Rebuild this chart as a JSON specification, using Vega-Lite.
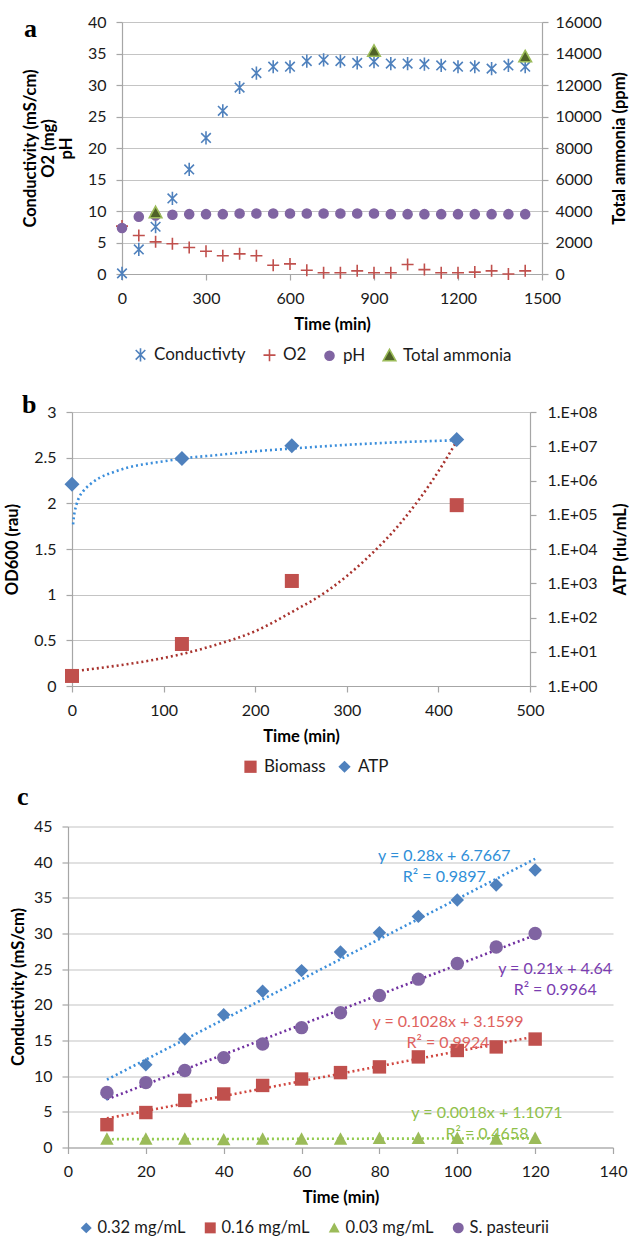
{
  "$schema": "https://vega.github.io/schema/vega-lite/v6.json",
  "background": "white",
  "padding": {"left": 0, "top": 14, "right": 0, "bottom": 0},
  "config": {
    "font": "Lato",
    "view": {"stroke": null},
    "axis": {
      "labelFont": "Lato", "labelFontSize": 16, "labelColor": "#1a1a1a",
      "titleFont": "Lato", "titleFontSize": 16.5, "titleFontWeight": "bold", "titleColor": "#000000",
      "domainColor": "#A6A6A6", "tickColor": "#A6A6A6", "gridColor": "#C4C4C4",
      "domainWidth": 1.2, "tickWidth": 1.2, "gridWidth": 1.2, "tickSize": 6,
      "labelPadding": 9, "titlePadding": 10, "labelFlush": false, "labelOverlap": false, "labelBound": false
    },
    "axisX": {"grid": false, "labelPadding": 10, "titlePadding": 10},
    "legend": {"labelFont": "Lato", "labelFontSize": 17, "labelColor": "#1a1a1a", "padding": 0, "labelOffset": 5, "symbolStrokeWidth": 1.6},
    "title": {"font": "Liberation Serif", "fontSize": 26, "fontWeight": "bold", "color": "#000000", "anchor": "start", "frame": "group", "offset": 0, "baseline": "alphabetic"}
  },
  "datasets": {
    "a_left": [
      {"series": "Conductivty", "t": 0, "v": 0.1}, {"series": "Conductivty", "t": 60, "v": 3.9}, {"series": "Conductivty", "t": 120, "v": 7.5}, {"series": "Conductivty", "t": 180, "v": 12.0}, {"series": "Conductivty", "t": 240, "v": 16.6}, {"series": "Conductivty", "t": 300, "v": 21.6}, {"series": "Conductivty", "t": 360, "v": 25.9}, {"series": "Conductivty", "t": 420, "v": 29.6}, {"series": "Conductivty", "t": 480, "v": 31.9}, {"series": "Conductivty", "t": 540, "v": 32.9}, {"series": "Conductivty", "t": 600, "v": 32.9}, {"series": "Conductivty", "t": 660, "v": 33.8}, {"series": "Conductivty", "t": 720, "v": 34.0}, {"series": "Conductivty", "t": 780, "v": 33.8}, {"series": "Conductivty", "t": 840, "v": 33.5}, {"series": "Conductivty", "t": 900, "v": 33.7}, {"series": "Conductivty", "t": 960, "v": 33.4}, {"series": "Conductivty", "t": 1020, "v": 33.4}, {"series": "Conductivty", "t": 1080, "v": 33.3}, {"series": "Conductivty", "t": 1140, "v": 33.1}, {"series": "Conductivty", "t": 1200, "v": 32.9}, {"series": "Conductivty", "t": 1260, "v": 32.9}, {"series": "Conductivty", "t": 1320, "v": 32.6}, {"series": "Conductivty", "t": 1380, "v": 33.1}, {"series": "Conductivty", "t": 1440, "v": 32.9},
      {"series": "O2", "t": 0, "v": 7.6}, {"series": "O2", "t": 60, "v": 6.1}, {"series": "O2", "t": 120, "v": 5.1}, {"series": "O2", "t": 180, "v": 4.8}, {"series": "O2", "t": 240, "v": 4.2}, {"series": "O2", "t": 300, "v": 3.6}, {"series": "O2", "t": 360, "v": 2.9}, {"series": "O2", "t": 420, "v": 3.2}, {"series": "O2", "t": 480, "v": 2.9}, {"series": "O2", "t": 540, "v": 1.4}, {"series": "O2", "t": 600, "v": 1.6}, {"series": "O2", "t": 660, "v": 0.6}, {"series": "O2", "t": 720, "v": 0.2}, {"series": "O2", "t": 780, "v": 0.2}, {"series": "O2", "t": 840, "v": 0.5}, {"series": "O2", "t": 900, "v": 0.2}, {"series": "O2", "t": 960, "v": 0.2}, {"series": "O2", "t": 1020, "v": 1.5}, {"series": "O2", "t": 1080, "v": 0.7}, {"series": "O2", "t": 1140, "v": 0.2}, {"series": "O2", "t": 1200, "v": 0.2}, {"series": "O2", "t": 1260, "v": 0.3}, {"series": "O2", "t": 1320, "v": 0.5}, {"series": "O2", "t": 1380, "v": 0.0}, {"series": "O2", "t": 1440, "v": 0.5},
      {"series": "pH", "t": 0, "v": 7.3}, {"series": "pH", "t": 60, "v": 9.1}, {"series": "pH", "t": 120, "v": 9.3}, {"series": "pH", "t": 180, "v": 9.4}, {"series": "pH", "t": 240, "v": 9.5}, {"series": "pH", "t": 300, "v": 9.5}, {"series": "pH", "t": 360, "v": 9.5}, {"series": "pH", "t": 420, "v": 9.6}, {"series": "pH", "t": 480, "v": 9.6}, {"series": "pH", "t": 540, "v": 9.6}, {"series": "pH", "t": 600, "v": 9.6}, {"series": "pH", "t": 660, "v": 9.6}, {"series": "pH", "t": 720, "v": 9.6}, {"series": "pH", "t": 780, "v": 9.6}, {"series": "pH", "t": 840, "v": 9.6}, {"series": "pH", "t": 900, "v": 9.6}, {"series": "pH", "t": 960, "v": 9.5}, {"series": "pH", "t": 1020, "v": 9.5}, {"series": "pH", "t": 1080, "v": 9.5}, {"series": "pH", "t": 1140, "v": 9.5}, {"series": "pH", "t": 1200, "v": 9.5}, {"series": "pH", "t": 1260, "v": 9.5}, {"series": "pH", "t": 1320, "v": 9.5}, {"series": "pH", "t": 1380, "v": 9.5}, {"series": "pH", "t": 1440, "v": 9.5}
    ],
    "a_nh3": [
      {"series": "Total ammonia", "t": 120, "v": 3900},
      {"series": "Total ammonia", "t": 900, "v": 14150},
      {"series": "Total ammonia", "t": 1440, "v": 13800}
    ],
    "b_bio": [
      {"series": "Biomass", "t": 0, "v": 0.11}, {"series": "Biomass", "t": 120, "v": 0.46}, {"series": "Biomass", "t": 240, "v": 1.15}, {"series": "Biomass", "t": 420, "v": 1.98}
    ],
    "b_atp": [
      {"series": "ATP", "t": 0, "v": 780000}, {"series": "ATP", "t": 120, "v": 4400000}, {"series": "ATP", "t": 240, "v": 10300000}, {"series": "ATP", "t": 420, "v": 15800000}
    ],
    "b_bio_trend": [
      {"t": 0, "v": 0.16}, {"t": 40, "v": 0.21}, {"t": 80, "v": 0.27}, {"t": 120, "v": 0.35}, {"t": 160, "v": 0.46}, {"t": 200, "v": 0.6}, {"t": 240, "v": 0.81}, {"t": 280, "v": 1.05}, {"t": 320, "v": 1.38}, {"t": 360, "v": 1.8}, {"t": 400, "v": 2.35}, {"t": 420, "v": 2.68}
    ],
    "b_atp_trend": [
      {"t": 1.2, "v": 52000}, {"t": 2, "v": 86000}, {"t": 3, "v": 124000}, {"t": 5, "v": 203000}, {"t": 8, "v": 331000}, {"t": 12, "v": 479000}, {"t": 20, "v": 780000}, {"t": 30, "v": 1200000}, {"t": 45, "v": 1740000}, {"t": 60, "v": 2360000}, {"t": 80, "v": 3020000}, {"t": 100, "v": 3630000}, {"t": 120, "v": 4370000}, {"t": 160, "v": 5580000}, {"t": 200, "v": 7130000}, {"t": 240, "v": 8580000}, {"t": 300, "v": 11000000}, {"t": 360, "v": 13200000}, {"t": 420, "v": 14900000}
    ],
    "c_pts": [
      {"series": "0.32 mg/mL", "t": 10, "v": 7.5}, {"series": "0.32 mg/mL", "t": 20, "v": 11.6}, {"series": "0.32 mg/mL", "t": 30, "v": 15.2}, {"series": "0.32 mg/mL", "t": 40, "v": 18.6}, {"series": "0.32 mg/mL", "t": 50, "v": 21.9}, {"series": "0.32 mg/mL", "t": 60, "v": 24.8}, {"series": "0.32 mg/mL", "t": 70, "v": 27.4}, {"series": "0.32 mg/mL", "t": 80, "v": 30.1}, {"series": "0.32 mg/mL", "t": 90, "v": 32.4}, {"series": "0.32 mg/mL", "t": 100, "v": 34.7}, {"series": "0.32 mg/mL", "t": 110, "v": 36.8}, {"series": "0.32 mg/mL", "t": 120, "v": 38.9},
      {"series": "0.16 mg/mL", "t": 10, "v": 3.2}, {"series": "0.16 mg/mL", "t": 20, "v": 4.9}, {"series": "0.16 mg/mL", "t": 30, "v": 6.6}, {"series": "0.16 mg/mL", "t": 40, "v": 7.5}, {"series": "0.16 mg/mL", "t": 50, "v": 8.7}, {"series": "0.16 mg/mL", "t": 60, "v": 9.6}, {"series": "0.16 mg/mL", "t": 70, "v": 10.5}, {"series": "0.16 mg/mL", "t": 80, "v": 11.3}, {"series": "0.16 mg/mL", "t": 90, "v": 12.7}, {"series": "0.16 mg/mL", "t": 100, "v": 13.6}, {"series": "0.16 mg/mL", "t": 110, "v": 14.1}, {"series": "0.16 mg/mL", "t": 120, "v": 15.2},
      {"series": "0.03 mg/mL", "t": 10, "v": 1.2}, {"series": "0.03 mg/mL", "t": 20, "v": 1.2}, {"series": "0.03 mg/mL", "t": 30, "v": 1.2}, {"series": "0.03 mg/mL", "t": 40, "v": 1.1}, {"series": "0.03 mg/mL", "t": 50, "v": 1.2}, {"series": "0.03 mg/mL", "t": 60, "v": 1.2}, {"series": "0.03 mg/mL", "t": 70, "v": 1.2}, {"series": "0.03 mg/mL", "t": 80, "v": 1.3}, {"series": "0.03 mg/mL", "t": 90, "v": 1.3}, {"series": "0.03 mg/mL", "t": 100, "v": 1.3}, {"series": "0.03 mg/mL", "t": 110, "v": 1.2}, {"series": "0.03 mg/mL", "t": 120, "v": 1.3},
      {"series": "S. pasteurii", "t": 10, "v": 7.7}, {"series": "S. pasteurii", "t": 20, "v": 9.1}, {"series": "S. pasteurii", "t": 30, "v": 10.8}, {"series": "S. pasteurii", "t": 40, "v": 12.6}, {"series": "S. pasteurii", "t": 50, "v": 14.5}, {"series": "S. pasteurii", "t": 60, "v": 16.8}, {"series": "S. pasteurii", "t": 70, "v": 18.9}, {"series": "S. pasteurii", "t": 80, "v": 21.3}, {"series": "S. pasteurii", "t": 90, "v": 23.6}, {"series": "S. pasteurii", "t": 100, "v": 25.8}, {"series": "S. pasteurii", "t": 110, "v": 28.1}, {"series": "S. pasteurii", "t": 120, "v": 30.0}
    ]
  },
  "vconcat": [
    {
      "hconcat": [
        {"width": 22, "height": 1, "data": {"values": []}, "mark": "point"},
        {
          "width": 420, "height": 252,
          "title": {"text": "a", "dx": -98, "dy": 32},
          "layer": [
            {
              "data": {"name": "a_left"},
              "mark": {"type": "point", "size": 144, "strokeWidth": 1.6, "opacity": 1},
              "encoding": {
                "x": {"field": "t", "type": "quantitative", "scale": {"domain": [0, 1500], "nice": false}, "axis": {"title": "Time (min)", "values": [0, 300, 600, 900, 1200, 1500], "format": "d"}},
                "y": {"field": "v", "type": "quantitative", "scale": {"domain": [0, 40], "nice": false}, "axis": {"title": ["Conductivity (mS/cm)", "O2 (mg)", "pH"], "values": [0, 5, 10, 15, 20, 25, 30, 35, 40], "grid": true, "labelPadding": 10, "titleX": -92, "titleY": 126, "titleAngle": 270, "titleBaseline": "middle", "titleAlign": "center", "titleLineHeight": 18}},
                "shape": {"field": "series", "type": "nominal", "scale": {"domain": ["Conductivty", "O2", "pH", "Total ammonia"], "range": ["M-0.8,-0.8L0.8,0.8M-0.8,0.8L0.8,-0.8M0,-1.1L0,1.1", "M-1,0L1,0M0,-1L0,1", "M0.75,0A0.75,0.75 0 1,1 -0.75,0A0.75,0.75 0 1,1 0.75,0Z", "M0,-1.05L1.05,0.85L-1.05,0.85Z"]}, "legend": {"orient": "none", "legendX": 132, "legendY": 324, "direction": "horizontal", "title": null, "columnPadding": 14, "symbolSize": 144}},
                "fill": {"field": "series", "type": "nominal", "scale": {"domain": ["Conductivty", "O2", "pH", "Total ammonia"], "range": ["transparent", "transparent", "#8064A2", "#4F6228"]}},
                "stroke": {"field": "series", "type": "nominal", "scale": {"domain": ["Conductivty", "O2", "pH", "Total ammonia"], "range": ["#4F81BD", "#C0504D", "#8064A2", "#9BBB59"]}}
              }
            },
            {
              "data": {"name": "a_nh3"},
              "mark": {"type": "point", "size": 144, "strokeWidth": 1.6, "opacity": 1},
              "encoding": {
                "x": {"field": "t", "type": "quantitative"},
                "y": {"field": "v", "type": "quantitative", "scale": {"domain": [0, 16000], "nice": false}, "axis": {"orient": "right", "title": "Total ammonia (ppm)", "values": [0, 2000, 4000, 6000, 8000, 10000, 12000, 14000, 16000], "format": "d", "grid": false, "labelPadding": 7, "titleX": 77, "titleY": 126, "titleAngle": 270, "titleBaseline": "middle", "titleAlign": "center"}},
                "shape": {"field": "series", "type": "nominal"},
                "fill": {"field": "series", "type": "nominal"},
                "stroke": {"field": "series", "type": "nominal"}
              }
            }
          ],
          "resolve": {"scale": {"y": "independent"}}
        }
      ],
      "spacing": 0
    },
    {
      "vconcat": [
        {
          "hconcat": [
            {"width": 4, "height": 1, "data": {"values": []}, "mark": "point"},
            {
              "width": 458, "height": 274,
              "title": {"text": "b", "dx": -50, "dy": 18},
              "layer": [
                {
                  "layer": [
                    {
                      "data": {"name": "b_bio_trend"},
                      "mark": {"type": "line", "color": "#A8332E", "strokeWidth": 2.6, "strokeDash": [2, 3], "interpolate": "monotone"},
                      "encoding": {
                        "x": {"field": "t", "type": "quantitative", "scale": {"domain": [0, 500], "nice": false}, "axis": {"title": "Time (min)", "values": [0, 100, 200, 300, 400, 500]}},
                        "y": {"field": "v", "type": "quantitative", "scale": {"domain": [0, 3], "nice": false}, "axis": {"title": "OD600 (rau)", "values": [0, 0.5, 1, 1.5, 2, 2.5, 3], "format": "~g", "grid": true, "labelPadding": 10, "titleX": -60, "titleY": 137, "titleAngle": 270, "titleBaseline": "middle", "titleAlign": "center"}}
                      }
                    },
                    {
                      "data": {"name": "b_bio"},
                      "mark": {"type": "point", "filled": true, "size": 196, "opacity": 1},
                      "encoding": {
                        "x": {"field": "t", "type": "quantitative"},
                        "y": {"field": "v", "type": "quantitative"},
                        "shape": {"field": "series", "type": "nominal", "scale": {"domain": ["Biomass", "ATP"], "range": ["square", "diamond"]}, "legend": {"orient": "none", "legendX": 242, "legendY": 346, "direction": "horizontal", "title": null, "columnPadding": 10, "symbolSize": 150}},
                        "color": {"field": "series", "type": "nominal", "scale": {"domain": ["Biomass", "ATP"], "range": ["#C0504D", "#4F81BD"]}}
                      }
                    }
                  ]
                },
                {
                  "layer": [
                    {
                      "data": {"name": "b_atp_trend"},
                      "mark": {"type": "line", "color": "#3B8EDB", "strokeWidth": 2.6, "strokeDash": [2, 3], "interpolate": "monotone"},
                      "encoding": {
                        "x": {"field": "t", "type": "quantitative"},
                        "y": {"field": "v", "type": "quantitative", "scale": {"type": "log", "domain": [1, 100000000], "nice": false}, "axis": {"orient": "right", "title": "ATP (rlu/mL)", "values": [1, 10, 100, 1000, 10000, 100000, 1000000, 10000000, 100000000], "labelExpr": "replace(format(datum.value, '.0e'), 'e+', '.E+0')", "grid": false, "labelPadding": 11, "titleX": 90, "titleY": 137, "titleAngle": 270, "titleBaseline": "middle", "titleAlign": "center"}}
                      }
                    },
                    {
                      "data": {"name": "b_atp"},
                      "mark": {"type": "point", "filled": true, "size": 225, "opacity": 1},
                      "encoding": {
                        "x": {"field": "t", "type": "quantitative"},
                        "y": {"field": "v", "type": "quantitative"},
                        "shape": {"field": "series", "type": "nominal"},
                        "color": {"field": "series", "type": "nominal"}
                      }
                    }
                  ]
                }
              ],
              "resolve": {"scale": {"y": "independent"}}
            }
          ],
          "spacing": 0
        },
        {
          "hconcat": [
            {"width": 10, "height": 1, "data": {"values": []}, "mark": "point"},
            {
              "width": 545, "height": 321,
              "title": {"text": "c", "dx": -51, "dy": -5},
              "data": {"name": "c_pts"},
              "encoding": {
                "x": {"field": "t", "type": "quantitative", "scale": {"domain": [0, 140], "nice": false}, "axis": {"title": "Time (min)", "values": [0, 20, 40, 60, 80, 100, 120, 140]}},
                "y": {"field": "v", "type": "quantitative", "scale": {"domain": [0, 45], "nice": false}, "axis": {"title": "Conductivity (mS/cm)", "values": [0, 5, 10, 15, 20, 25, 30, 35, 40, 45], "grid": true, "labelPadding": 10, "titleX": -50, "titleY": 160, "titleAngle": 270, "titleBaseline": "middle", "titleAlign": "center"}}
              },
              "layer": [
                {
                  "transform": [{"filter": "datum.series === '0.32 mg/mL'"}, {"regression": "v", "on": "t"}],
                  "mark": {"type": "line", "color": "#3B8EDB", "strokeWidth": 2.6, "strokeDash": [2, 3]}
                },
                {
                  "transform": [{"filter": "datum.series === '0.16 mg/mL'"}, {"regression": "v", "on": "t"}],
                  "mark": {"type": "line", "color": "#D0463F", "strokeWidth": 2.6, "strokeDash": [2, 3]}
                },
                {
                  "transform": [{"filter": "datum.series === '0.03 mg/mL'"}, {"regression": "v", "on": "t"}],
                  "mark": {"type": "line", "color": "#92CC4E", "strokeWidth": 2.6, "strokeDash": [2, 3]}
                },
                {
                  "transform": [{"filter": "datum.series === 'S. pasteurii'"}, {"regression": "v", "on": "t"}],
                  "mark": {"type": "line", "color": "#7030A0", "strokeWidth": 2.6, "strokeDash": [2, 3]}
                },
                {
                  "mark": {"type": "point", "filled": true, "size": 180, "opacity": 1},
                  "encoding": {
                    "shape": {"field": "series", "type": "nominal", "scale": {"domain": ["0.32 mg/mL", "0.16 mg/mL", "0.03 mg/mL", "S. pasteurii"], "range": ["diamond", "square", "M0,-1L1,0.85L-1,0.85Z", "circle"]}, "legend": {"orient": "none", "legendX": 78, "legendY": 393, "direction": "horizontal", "title": null, "columnPadding": 16, "symbolSize": 120, "labelOffset": 3, "labelFontSize": 16.5}},
                    "color": {"field": "series", "type": "nominal", "scale": {"domain": ["0.32 mg/mL", "0.16 mg/mL", "0.03 mg/mL", "S. pasteurii"], "range": ["#4F81BD", "#C0504D", "#9BBB59", "#8064A2"]}}
                  }
                },
                {
                  "transform": [{"filter": "datum.series === '0.32 mg/mL' && datum.t === 100"}],
                  "mark": {"type": "text", "font": "Lato", "fontSize": 16, "color": "#2F8FD8", "align": "center", "baseline": "middle", "lineHeight": 21, "dx": -13, "dy": -43.5},
                  "encoding": {"text": {"value": ["y = 0.28x + 6.7667", "R² = 0.9897"]}}
                },
                {
                  "transform": [{"filter": "datum.series === 'S. pasteurii' && datum.t === 120"}],
                  "mark": {"type": "text", "font": "Lato", "fontSize": 16, "color": "#7A3DB0", "align": "center", "baseline": "middle", "lineHeight": 21, "dx": 20, "dy": 35.7},
                  "encoding": {"text": {"value": ["y = 0.21x + 4.64", "R² = 0.9964"]}}
                },
                {
                  "transform": [{"filter": "datum.series === '0.16 mg/mL' && datum.t === 100"}],
                  "mark": {"type": "text", "font": "Lato", "fontSize": 16, "color": "#E0625E", "align": "center", "baseline": "middle", "lineHeight": 21, "dx": -9.3, "dy": -28.5},
                  "encoding": {"text": {"value": ["y = 0.1028x + 3.1599", "R² = 0.9924"]}}
                },
                {
                  "transform": [{"filter": "datum.series === '0.03 mg/mL' && datum.t === 110"}],
                  "mark": {"type": "text", "font": "Lato", "fontSize": 16, "color": "#8FC04A", "align": "center", "baseline": "middle", "lineHeight": 21, "dx": -9.3, "dy": -26},
                  "encoding": {"text": {"value": ["y = 0.0018x + 1.1071", "R² = 0.4658"]}}
                }
              ]
            }
          ],
          "spacing": 0
        }
      ],
      "spacing": 8.5,
      "resolve": {"scale": {"color": "independent", "shape": "independent", "fill": "independent", "stroke": "independent"}, "legend": {"color": "independent", "shape": "independent", "fill": "independent", "stroke": "independent"}}
    }
  ],
  "spacing": 27,
  "resolve": {"scale": {"color": "independent", "shape": "independent", "fill": "independent", "stroke": "independent"}, "legend": {"color": "independent", "shape": "independent", "fill": "independent", "stroke": "independent"}}
}
